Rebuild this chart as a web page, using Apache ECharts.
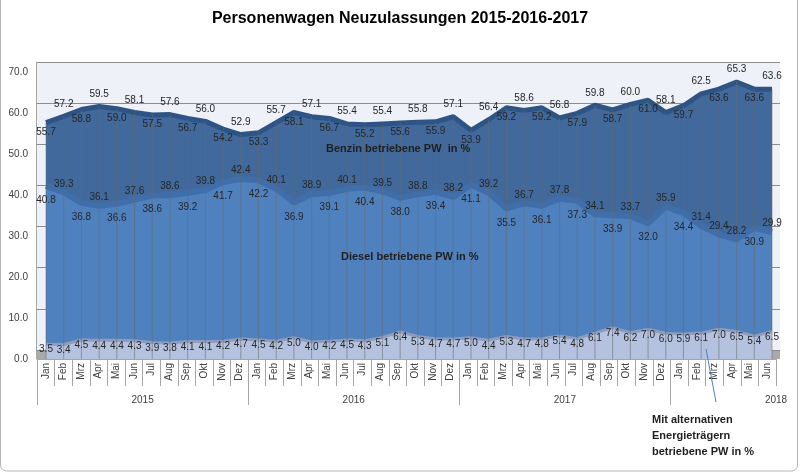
<!DOCTYPE html>
<html><head><meta charset="utf-8">
<script src="https://cdn.jsdelivr.net/npm/echarts@6/dist/echarts.min.js"></script>
<style>html,body{margin:0;padding:0;background:#fff}#c{width:800px;height:475px}</style>
</head><body><div id="c"></div>
<script>
const monthNames = ['Jan','Feb','Mrz','Apr','Mai','Jun','Jul','Aug','Sep','Okt','Nov','Dez'];
const yearLabels = ['2015','2016','2017','2018'];
const monthCounts = [12,12,12,6];
const benzin = [55.7,57.2,58.8,59.5,59.0,58.1,57.5,57.6,56.7,56.0,54.2,52.9,
                53.3,55.7,58.1,57.1,56.7,55.4,55.2,55.4,55.6,55.8,55.9,57.1,
                53.9,56.4,59.2,58.6,59.2,56.8,57.9,59.8,58.7,60.0,61.0,58.1,
                59.7,62.5,63.6,65.3,63.6,63.6];
const diesel = [40.8,39.3,36.8,36.1,36.6,37.6,38.6,38.6,39.2,39.8,41.7,42.4,
                42.2,40.1,36.9,38.9,39.1,40.1,40.4,39.5,38.0,38.8,39.4,38.2,
                41.1,39.2,35.5,36.7,36.1,37.8,37.3,34.1,33.9,33.7,32.0,35.9,
                34.4,31.4,29.4,28.2,30.9,29.9];
const alternativ = [3.5,3.4,4.5,4.4,4.4,4.3,3.9,3.8,4.1,4.1,4.2,4.7,
                    4.5,4.2,5.0,4.0,4.2,4.5,4.3,5.1,6.4,5.3,4.7,4.7,
                    5.0,4.4,5.3,4.7,4.8,5.4,4.8,6.1,7.4,6.2,7.0,6.0,
                    5.9,6.1,7.0,6.5,5.4,6.5];
const titleText = 'Personenwagen Neuzulassungen 2015-2016-2017';

const categories = [];
yearLabels.forEach((y, i) => { for (let m = 0; m < monthCounts[i]; m++) categories.push(monthNames[m] + ' ' + y); });
// boundaries between months (n+1 points) for the year row
const yearAxisData = [];
for (let i = 0; i <= categories.length; i++) {
  let t = '';
  if (i % 12 === 6 && i < categories.length) t = yearLabels[Math.floor(i / 12)];
  if (i === categories.length) t = yearLabels[yearLabels.length - 1];
  yearAxisData.push(t);
}

const FONT = 'Liberation Sans';
const TXT = '#262626';

function labelData(arr, posFn) {
  return arr.map((v, i) => {
    const p = posFn(i);
    return { value: v, label: { position: p[0], distance: p[1] } };
  });
}

const chart = echarts.init(document.getElementById('c'), null, { renderer: 'canvas' });
const hiddenAxis = { show: false };

const option = {
  animation: false,
  backgroundColor: '#ffffff',
  title: {
    text: titleText, left: 'center', top: 6,
    textStyle: { fontFamily: FONT, fontSize: 16, fontWeight: 'bold', color: '#000' }
  },
  grid: [
    { left: 36, right: 20, top: 62, bottom: 125, show: true, backgroundColor: '#EEF1F8', borderWidth: 0 },
    { left: 46, right: 28, top: 62, bottom: 116 },
    { left: 37, right: 24, top: 72, bottom: 116 }
  ],
  xAxis: [
    { gridIndex: 0, type: 'value', min: 0, max: 1, show: false },
    { gridIndex: 1, type: 'category', data: categories, boundaryGap: false, show: false },
    { gridIndex: 2, type: 'category', data: categories, boundaryGap: true, position: 'bottom',
      axisLine: { show: true, lineStyle: { color: '#A6A6A6' } },
      axisTick: { show: true, length: 27, lineStyle: { color: '#A6A6A6' } },
      axisLabel: { rotate: 90, margin: 4, interval: 0, fontFamily: FONT, fontSize: 10, color: '#404040',
                   formatter: v => v.split(' ')[0] },
      splitLine: { show: false } },
    { gridIndex: 2, type: 'category', data: yearAxisData, boundaryGap: false, position: 'bottom',
      axisLine: { show: false },
      axisTick: { show: true, length: 46, interval: (i) => i % 12 === 0 && i < categories.length,
                  lineStyle: { color: '#A6A6A6' } },
      axisLabel: { margin: 36, interval: (i, v) => v !== '', fontFamily: FONT, fontSize: 10, color: '#404040' },
      splitLine: { show: false } }
  ],
  yAxis: [
    { gridIndex: 0, type: 'value', min: 0, max: 70, interval: 10,
      axisLine: { show: true, lineStyle: { color: '#A6A6A6' } }, axisTick: { show: false },
      axisLabel: { show: false },
      splitLine: { show: true, lineStyle: { color: '#8C8C8C', width: 1 } } },
    { gridIndex: 1, type: 'value', min: 0, max: 70, interval: 10, show: false, splitLine: { show: false } },
    { gridIndex: 2, type: 'value', min: 0, max: 70, interval: 10,
      axisLine: { show: false }, axisTick: { show: false }, splitLine: { show: false },
      axisLabel: { margin: 9, fontFamily: FONT, fontSize: 10, color: '#404040', formatter: v => v.toFixed(1) } }
  ],
  series: [
    { name: 'Benzin', type: 'line', xAxisIndex: 1, yAxisIndex: 1, data: benzin, symbol: 'none', z: 2, silent: true,
      lineStyle: { color: '#2E5485', width: 5 }, areaStyle: { color: '#41699C', opacity: 1 } },
    { name: 'Diesel', type: 'line', xAxisIndex: 1, yAxisIndex: 1, data: diesel, symbol: 'none', z: 2, silent: true,
      lineStyle: { color: '#3F6EAA', width: 6 }, areaStyle: { color: '#4F81BE', opacity: 1 } },
    { name: 'Alternativ', type: 'line', xAxisIndex: 1, yAxisIndex: 1, data: alternativ, symbol: 'none', z: 2, silent: true,
      lineStyle: { color: '#8E9DBE', width: 3 }, areaStyle: { color: '#B4C2DF', opacity: 1 } },
    { name: 'Gitter', type: 'bar', xAxisIndex: 1, yAxisIndex: 1, data: benzin, barWidth: 1, z: 3, silent: true,
      itemStyle: { color: 'rgba(105,105,105,0.55)' } },
    { name: 'BenzinLabels', type: 'line', xAxisIndex: 1, yAxisIndex: 1, z: 5, silent: true,
      data: labelData(benzin, i => i % 2 === 0 ? ['bottom', 4] : ['top', 7]),
      symbol: 'circle', symbolSize: 1, itemStyle: { color: 'rgba(0,0,0,0)' }, lineStyle: { width: 0, opacity: 0 },
      label: { show: true, fontFamily: FONT, fontSize: 10, color: TXT, formatter: p => p.value.toFixed(1) } },
    { name: 'DieselLabels', type: 'line', xAxisIndex: 1, yAxisIndex: 1, z: 5, silent: true,
      data: labelData(diesel, i => (i % 2 === 1 || i === 38) ? ['top', 3] : ['bottom', 9]),
      symbol: 'circle', symbolSize: 1, itemStyle: { color: 'rgba(0,0,0,0)' }, lineStyle: { width: 0, opacity: 0 },
      label: { show: true, fontFamily: FONT, fontSize: 10, color: TXT, formatter: p => p.value.toFixed(1) } },
    { name: 'AltLabels', type: 'line', xAxisIndex: 1, yAxisIndex: 1, z: 5, silent: true,
      data: labelData(alternativ, i => ['bottom', 0]),
      symbol: 'circle', symbolSize: 1, itemStyle: { color: 'rgba(0,0,0,0)' }, lineStyle: { width: 0, opacity: 0 },
      label: { show: true, fontFamily: FONT, fontSize: 10, color: TXT, formatter: p => p.value.toFixed(1) } }
  ],
  graphic: [
    { type: 'rect', shape: { x: 0.5, y: -6, width: 797, height: 477, r: 6 }, silent: true,
      style: { fill: 'none', stroke: '#B5B5B5', lineWidth: 1 } },
    { type: 'rect', shape: { x: 36, y: 350, width: 10, height: 9 }, silent: true, style: { fill: '#A9A9A9' } },
    { type: 'rect', shape: { x: 772, y: 350, width: 8, height: 9 }, silent: true, style: { fill: '#A9A9A9' } },
    { type: 'text', x: 326, y: 149, silent: true, z: 10,
      style: { text: 'Benzin betriebene PW  in %', fontFamily: FONT, fontSize: 11, fontWeight: 'bold', fill: '#1F1F1F', verticalAlign: 'middle' } },
    { type: 'text', x: 341, y: 257, silent: true, z: 10,
      style: { text: 'Diesel betriebene PW in %', fontFamily: FONT, fontSize: 11, fontWeight: 'bold', fill: '#1F1F1F', verticalAlign: 'middle' } },
    { type: 'line', shape: { x1: 706, y1: 349, x2: 716, y2: 402 }, silent: true, z: 10,
      style: { stroke: '#4F81BD', lineWidth: 1 } },
    { type: 'text', x: 652, y: 412, silent: true, z: 10,
      style: { text: 'Mit alternativen\nEnergieträgern\nbetriebene PW in %', fontFamily: FONT, fontSize: 11, fontWeight: 'bold',
               fill: '#1F1F1F', lineHeight: 16 } }
  ]
};
chart.setOption(option);
</script>
</body></html>
